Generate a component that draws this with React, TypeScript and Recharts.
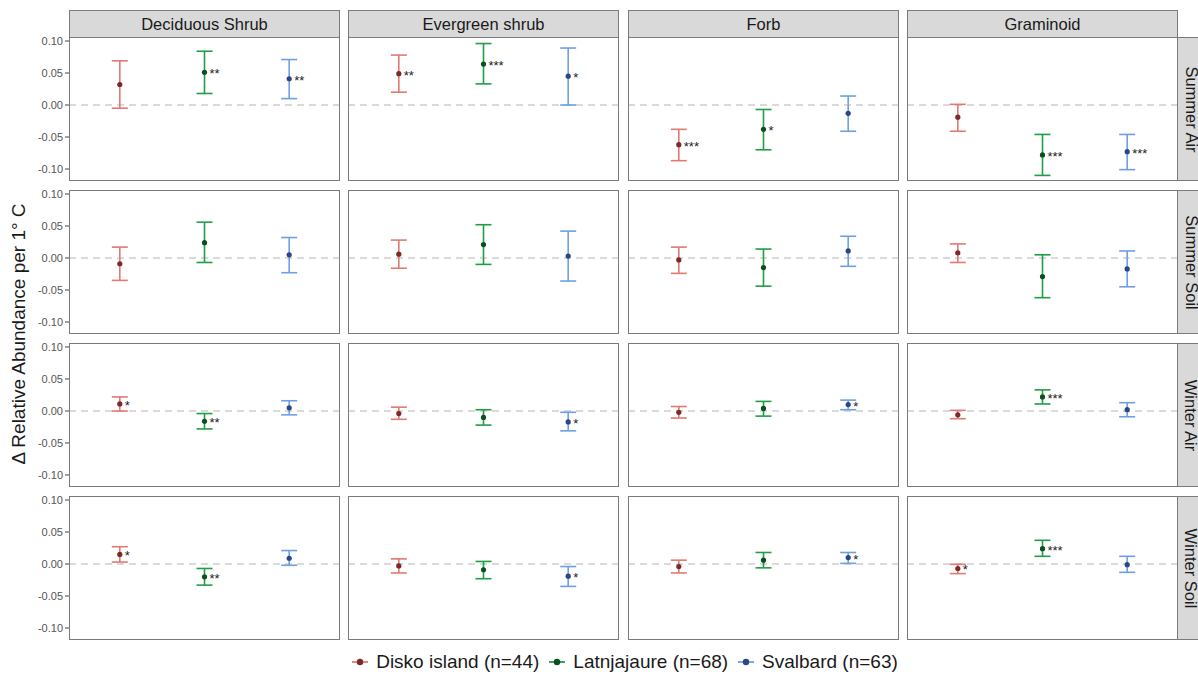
import React from 'react';
import {
    ScatterChart,
    Scatter,
    XAxis,
    YAxis,
    ErrorBar,
    ReferenceLine,
} from 'recharts';

// facets
const groups = ['Deciduous Shrub', 'Evergreen shrub', 'Forb', 'Graminoid'];
const seasons = ['Summer Air', 'Summer Soil', 'Winter Air', 'Winter Soil'];
const sites = ['Disko island (n=44)', 'Latnjajaure (n=68)', 'Svalbard (n=63)'];
const yTicks = [0.1, 0.05, 0, -0.05, -0.1];

// [season][group]
const diskoMean = [
    [0.032, 0.049, -0.062, -0.019],
    [-0.009, 0.006, -0.003, 0.008],
    [0.011, -0.004, -0.002, -0.006],
    [0.015, -0.003, -0.004, -0.007],
];
const diskoLow = [
    [-0.005, 0.02, -0.087, -0.041],
    [-0.035, -0.016, -0.024, -0.007],
    [0.0, -0.013, -0.011, -0.012],
    [0.003, -0.014, -0.014, -0.015],
];
const diskoHigh = [
    [0.069, 0.078, -0.038, 0.001],
    [0.017, 0.028, 0.017, 0.022],
    [0.022, 0.006, 0.007, 0.001],
    [0.027, 0.008, 0.006, -0.0005],
];
const diskoSig = [
    ['', '**', '***', ''],
    ['', '', '', ''],
    ['*', '', '', ''],
    ['*', '', '', '*'],
];

const latnMean = [
    [0.051, 0.064, -0.038, -0.078],
    [0.024, 0.021, -0.015, -0.029],
    [-0.016, -0.01, 0.004, 0.022],
    [-0.02, -0.009, 0.006, 0.024],
];
const latnLow = [
    [0.018, 0.033, -0.07, -0.11],
    [-0.007, -0.01, -0.044, -0.062],
    [-0.028, -0.022, -0.008, 0.011],
    [-0.033, -0.023, -0.006, 0.012],
];
const latnHigh = [
    [0.084, 0.096, -0.007, -0.046],
    [0.056, 0.052, 0.014, 0.005],
    [-0.004, 0.002, 0.015, 0.033],
    [-0.007, 0.004, 0.018, 0.037],
];
const latnSig = [
    ['**', '***', '*', '***'],
    ['', '', '', ''],
    ['**', '', '', '***'],
    ['**', '', '', '***'],
];

const svalMean = [
    [0.041, 0.045, -0.013, -0.073],
    [0.005, 0.003, 0.011, -0.017],
    [0.005, -0.017, 0.01, 0.002],
    [0.009, -0.019, 0.01, -0.001],
];
const svalLow = [
    [0.01, 0.0, -0.041, -0.101],
    [-0.023, -0.036, -0.013, -0.045],
    [-0.006, -0.031, 0.002, -0.009],
    [-0.002, -0.035, 0.001, -0.013],
];
const svalHigh = [
    [0.071, 0.089, 0.014, -0.046],
    [0.032, 0.042, 0.034, 0.011],
    [0.016, -0.002, 0.017, 0.013],
    [0.021, -0.004, 0.018, 0.012],
];
const svalSig = [
    ['**', '*', '', '***'],
    ['', '', '', ''],
    ['', '*', '*', ''],
    ['', '*', '*', ''],
];

const siteTables = [
    { mean: diskoMean, low: diskoLow, high: diskoHigh, sig: diskoSig, bar: '#e07a73', dot: '#7a2a28' },
    { mean: latnMean, low: latnLow, high: latnHigh, sig: latnSig, bar: '#1f9e45', dot: '#0d4f22' },
    { mean: svalMean, low: svalLow, high: svalHigh, sig: svalSig, bar: '#6f9fe3', dot: '#27478a' },
];

const FONT = '"Liberation Sans", Arial, sans-serif';
const PANEL_LEFT = [69, 348, 628, 907];
const PANEL_TOP = [37, 190, 343, 496];
const PANEL_W = 271;
const PANEL_H = 144;
const AXIS_W = 40;
const BORDER = '#7b7b7b';

const PointShape = (props: any) => {
    const { cx, cy, payload, fill } = props;
    return (
        <g>
            <circle cx={cx} cy={cy} r={2.6} fill={fill} />
            {payload.sig ? (
                <text x={cx + 5} y={cy + 6} fontSize={13} fill="#222" fontFamily={FONT}>
                    {payload.sig}
                </text>
            ) : null}
        </g>
    );
};

const Panel: React.FC<{ row: number; col: number }> = ({ row, col }) => {
    const withAxis = col === 0;
    const left = withAxis ? PANEL_LEFT[col] - AXIS_W : PANEL_LEFT[col];
    const width = withAxis ? PANEL_W + AXIS_W : PANEL_W;
    return (
        <div style={{ position: 'absolute', left, top: PANEL_TOP[row], width, height: PANEL_H }}>
            <ScatterChart width={width} height={PANEL_H} margin={{ top: 0, right: 0, bottom: 0, left: 0 }}>
                <XAxis type="number" dataKey="x" domain={[0.4, 3.6]} hide />
                <YAxis
                    type="number"
                    dataKey="y"
                    domain={[-0.11875, 0.10625]}
                    ticks={yTicks}
                    interval={0}
                    allowDataOverflow
                    hide={!withAxis}
                    width={AXIS_W}
                    axisLine={false}
                    tickSize={4}
                    tickLine={{ stroke: '#444' }}
                    tickMargin={2}
                    tick={{ fontSize: 11, fill: '#555', fontFamily: FONT }}
                    tickFormatter={(v: number) => v.toFixed(2)}
                />
                <ReferenceLine y={0} stroke="#b5b5b5" strokeDasharray="7 5" strokeWidth={1.2} />
                {siteTables.map((s, i) => {
                    const m = s.mean[row][col];
                    const data = [
                        {
                            x: i + 1,
                            y: m,
                            err: [m - s.low[row][col], s.high[row][col] - m],
                            sig: s.sig[row][col],
                        },
                    ];
                    return (
                        <Scatter
                            key={sites[i]}
                            name={sites[i]}
                            data={data}
                            fill={s.dot}
                            isAnimationActive={false}
                            shape={<PointShape />}
                        >
                            <ErrorBar dataKey="err" direction="y" width={8} stroke={s.bar} strokeWidth={1.6} />
                        </Scatter>
                    );
                })}
            </ScatterChart>
            <div
                style={{
                    position: 'absolute',
                    left: withAxis ? AXIS_W : 0,
                    top: 0,
                    width: PANEL_W,
                    height: PANEL_H,
                    border: `1px solid ${BORDER}`,
                    boxSizing: 'border-box',
                    pointerEvents: 'none',
                }}
            />
        </div>
    );
};

const LegendKey: React.FC<{ bar: string; dot: string }> = ({ bar, dot }) => (
    <svg width={20} height={20} style={{ marginRight: 6 }}>
        <line x1={2} y1={10} x2={18} y2={10} stroke={bar} strokeWidth={1.8} />
        <circle cx={10} cy={10} r={3.2} fill={dot} />
    </svg>
);

export default function App() {
    return (
        <div
            style={{
                position: 'absolute',
                left: 0,
                top: 0,
                width: 1198,
                height: 700,
                overflow: 'hidden',
                background: '#fff',
                fontFamily: FONT,
            }}
        >
            {/* column strips */}
            {groups.map((g, c) => (
                <div
                    key={g}
                    style={{
                        position: 'absolute',
                        left: PANEL_LEFT[c],
                        top: 10,
                        width: PANEL_W,
                        height: 28,
                        background: '#d9d9d9',
                        border: `1px solid ${BORDER}`,
                        boxSizing: 'border-box',
                        display: 'flex',
                        alignItems: 'center',
                        justifyContent: 'center',
                        fontSize: 16.5,
                        color: '#1a1a1a',
                    }}
                >
                    {g}
                </div>
            ))}
            {/* row strips */}
            {seasons.map((s, r) => (
                <div
                    key={s}
                    style={{
                        position: 'absolute',
                        left: PANEL_LEFT[3] + PANEL_W - 1,
                        top: PANEL_TOP[r],
                        width: 28,
                        height: PANEL_H,
                        background: '#d9d9d9',
                        border: `1px solid ${BORDER}`,
                        boxSizing: 'border-box',
                        display: 'flex',
                        alignItems: 'center',
                        justifyContent: 'center',
                    }}
                >
                    <div style={{ transform: 'rotate(90deg)', whiteSpace: 'nowrap', fontSize: 16.5, color: '#1a1a1a' }}>
                        {s}
                    </div>
                </div>
            ))}
            {seasons.map((s, r) => groups.map((g, c) => <Panel key={s + g} row={r} col={c} />))}
            {/* y title */}
            <div
                style={{
                    position: 'absolute',
                    left: 19,
                    top: 334,
                    transform: 'translate(-50%, -50%) rotate(-90deg)',
                    whiteSpace: 'nowrap',
                    fontSize: 19,
                    color: '#1a1a1a',
                }}
            >
                Δ Relative Abundance per 1° C
            </div>
            {/* legend */}
            <div
                style={{
                    position: 'absolute',
                    left: 0,
                    top: 651,
                    width: 1256,
                    display: 'flex',
                    justifyContent: 'center',
                    alignItems: 'center',
                    fontSize: 19,
                    color: '#1a1a1a',
                }}
            >
                {sites.map((name, i) => (
                    <div key={name} style={{ display: 'flex', alignItems: 'center', marginRight: 8 }}>
                        <LegendKey bar={siteTables[i].bar} dot={siteTables[i].dot} />
                        <span>{name}</span>
                    </div>
                ))}
            </div>
        </div>
    );
}
